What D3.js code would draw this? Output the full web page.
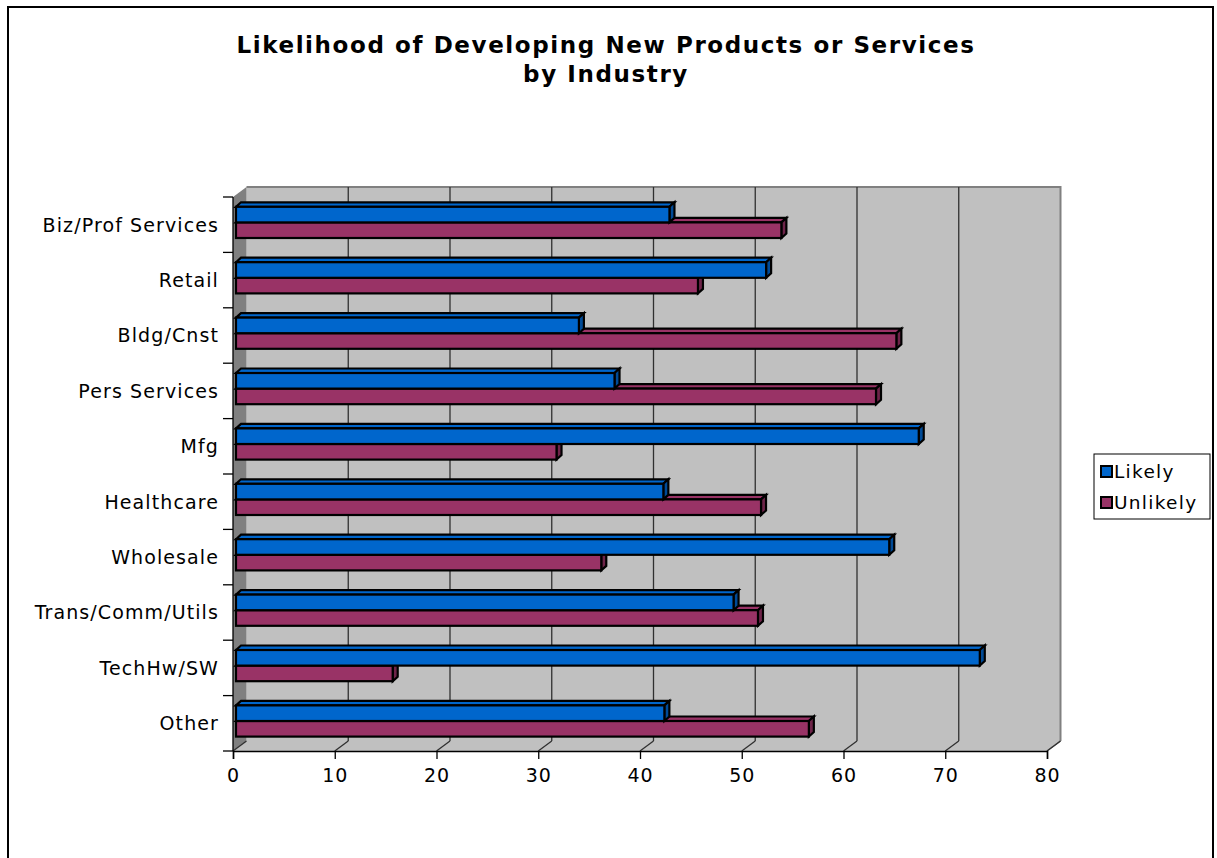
<!DOCTYPE html>
<html><head><meta charset="utf-8">
<script src="https://cdn.jsdelivr.net/npm/d3@7"></script>
<style>
html,body{margin:0;padding:0;background:#fff;}
text{font-family:"DejaVu Sans",Verdana,sans-serif;}
</style></head>
<body>
<svg id="chart" width="1217" height="858"></svg>
<script>
const categories = ["Biz/Prof Services","Retail","Bldg/Cnst","Pers Services","Mfg","Healthcare","Wholesale","Trans/Comm/Utils","TechHw/SW","Other"];
const likely   = [42.6,52.1,33.7,37.2,67.1,42.0,64.2,48.9,73.1,42.1];
const unlikely = [53.6,45.4,64.9,62.9,31.5,51.6,35.9,51.3,15.4,56.3];
const seriesNames = ["Likely","Unlikely"];
const xTicks = [0,10,20,30,40,50,60,70,80];
const titleLines = ["Likelihood of Developing New Products or Services","by Industry"];

const colors = {Likely:"#0066CC", Unlikely:"#993366"};
const sideColors = {Likely:"#004A96", Unlikely:"#6E2449"};

const svg = d3.select("#chart");

// outer border
svg.append("rect").attr("x",8).attr("y",7).attr("width",1205).attr("height",880)
  .attr("fill","#fff").attr("stroke","#000").attr("stroke-width",2);

// title
svg.append("g").selectAll("text").data(titleLines).join("text")
  .attr("x",606).attr("y",(d,i)=>53+i*29).attr("text-anchor","middle")
  .attr("font-size",23).attr("font-weight","bold").attr("letter-spacing",1.6)
  .text(d=>d);

// geometry
const DX = 13.5, DY = -10;           // wall depth
const front = {x0:233, x1:1047, y0:197, y1:751};
const xFront = d3.scaleLinear().domain([0,80]).range([front.x0, front.x1]);
const xBack  = d3.scaleLinear().domain([0,80]).range([front.x0+DX, front.x1+DX]);
const xBar   = d3.scaleLinear().domain([0,80]).range([front.x0+3, front.x1+3]);
const yBand  = d3.scaleBand().domain(categories).range([front.y0, front.y1]).padding(0);
const ySub   = d3.scaleBand().domain(seriesNames).range([0, yBand.bandwidth()]).paddingInner(0).paddingOuter(0.776);
const barShiftY = -2.3, BDX = 5, BDY = -4.5;

// back wall
const bx0 = front.x0+DX, bx1 = front.x1+DX, by0 = front.y0+DY, by1 = front.y1+DY;
svg.append("rect").attr("x",bx0).attr("y",by0).attr("width",bx1-bx0).attr("height",by1-by0)
  .attr("fill","#C0C0C0");
// left wall
svg.append("polygon").attr("points",[[front.x0,front.y0],[bx0,by0],[bx0,by1],[front.x0,front.y1]].join(" "))
  .attr("fill","#808080");
// floor
svg.append("polygon").attr("points",[[front.x0,front.y1],[bx0,by1],[bx1,by1],[front.x1,front.y1]].join(" "))
  .attr("fill","#C0C0C0");
// back wall border top/right
svg.append("path").attr("d",`M${bx0},${by0}H${bx1}V${by1}`).attr("fill","none")
  .attr("stroke","#808080").attr("stroke-width",2);
svg.append("line").attr("x1",front.x1).attr("y1",front.y1).attr("x2",bx1).attr("y2",by1)
  .attr("stroke","#808080").attr("stroke-width",1.5);

// gridlines on back wall + floor
const grid = svg.append("g");
grid.selectAll("line.g").data(xTicks.slice(1,-1)).join("line").attr("class","g")
  .attr("x1",d=>xBack(d)).attr("x2",d=>xBack(d)).attr("y1",by0).attr("y2",by1)
  .attr("stroke","#303030").attr("stroke-width",1.3);
grid.selectAll("line.f").data(xTicks).join("line").attr("class","f")
  .attr("x1",d=>xBack(d)).attr("x2",d=>xFront(d)).attr("y1",by1).attr("y2",front.y1)
  .attr("stroke","#303030").attr("stroke-width",1.3);

// axes
const xAxis = d3.axisBottom(xFront).tickValues(xTicks).tickSize(8).tickPadding(10);
const gx = svg.append("g").attr("transform",`translate(0,${front.y1})`).call(xAxis);
gx.select(".domain").attr("stroke","#000").attr("stroke-width",1.5);
gx.selectAll(".tick line").attr("stroke","#000").attr("stroke-width",1.3);
gx.selectAll(".tick text").attr("font-size",19).attr("font-family","DejaVu Sans").attr("fill","#000").attr("letter-spacing",1);

const yAxisG = svg.append("g");
yAxisG.append("line").attr("x1",front.x0).attr("x2",front.x0).attr("y1",front.y0).attr("y2",front.y1)
  .attr("stroke","#000").attr("stroke-width",1.3);
const bounds = categories.map(c=>yBand(c)).concat([front.y1]);
yAxisG.selectAll("line.t").data(bounds).join("line").attr("class","t")
  .attr("x1",front.x0-10).attr("x2",front.x0).attr("y1",d=>d).attr("y2",d=>d)
  .attr("stroke","#000").attr("stroke-width",1.3);
yAxisG.selectAll("text").data(categories).join("text")
  .attr("x",219).attr("y",d=>yBand(d)+yBand.bandwidth()/2).attr("dy","0.36em")
  .attr("text-anchor","end").attr("font-size",19).attr("letter-spacing",1.1).text(d=>d);

// bars
const data = categories.map((c,i)=>({cat:c, Likely:likely[i], Unlikely:unlikely[i]}));
const barsG = svg.append("g");
data.forEach(d=>{
  ["Unlikely","Likely"].forEach(s=>{
    const x0 = xBar(0), x1 = xBar(d[s]);
    const y = yBand(d.cat)+ySub(s)+barShiftY, h = ySub.bandwidth();
    const g = barsG.append("g").attr("stroke","#000").attr("stroke-width",2.2).attr("stroke-linejoin","miter");
    g.append("polygon").attr("points",[[x0,y],[x0+BDX,y+BDY],[x1+BDX,y+BDY],[x1,y]].join(" ")).attr("fill",colors[s]);
    g.append("polygon").attr("points",[[x1,y],[x1+BDX,y+BDY],[x1+BDX,y+h+BDY],[x1,y+h]].join(" ")).attr("fill",sideColors[s]);
    g.append("rect").attr("x",x0).attr("y",y).attr("width",x1-x0).attr("height",h).attr("fill",colors[s]);
  });
});

// legend
const lg = svg.append("g");
lg.append("rect").attr("x",1094).attr("y",454).attr("width",116).attr("height",65)
  .attr("fill","#fff").attr("stroke","#000").attr("stroke-width",1);
const li = lg.selectAll("g").data(seriesNames).join("g")
  .attr("transform",(d,i)=>`translate(1101,${466+i*31})`);
li.append("rect").attr("width",11).attr("height",11).attr("fill",d=>colors[d])
  .attr("stroke","#000").attr("stroke-width",2);
li.append("text").attr("x",13).attr("y",12).attr("font-size",18.5).attr("letter-spacing",1.3).text(d=>d);
</script>
</body></html>
